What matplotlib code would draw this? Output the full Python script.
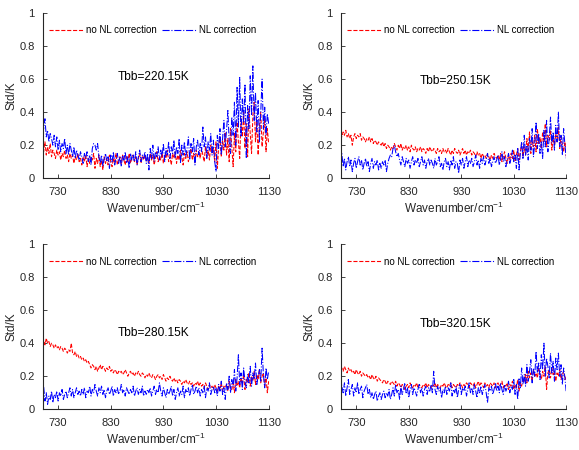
import numpy as np
import matplotlib
matplotlib.use("Agg")
import matplotlib.pyplot as plt

plt.rcParams['font.family'] = ['Liberation Sans', 'DejaVu Sans']
plt.rcParams['mathtext.default'] = 'regular'

# wavenumber grid, cm-1
wn = np.arange(700, 1130.1, 2.5)

titles = ["Tbb=220.15K", "Tbb=250.15K", "Tbb=280.15K", "Tbb=320.15K"]

# std without nonlinearity correction
r220 = [0.20, 0.16, 0.22, 0.14, 0.19, 0.15, 0.21, 0.13, 0.17, 0.15,
        0.12, 0.17, 0.14, 0.16, 0.11, 0.15, 0.13, 0.17, 0.12, 0.14,
        0.10, 0.15, 0.12, 0.14, 0.09, 0.13, 0.11, 0.15, 0.10, 0.12,
        0.08, 0.13, 0.10, 0.14, 0.07, 0.12, 0.09, 0.13, 0.11, 0.15,
        0.06, 0.12, 0.09, 0.14, 0.07, 0.11, 0.05, 0.13, 0.09, 0.12,
        0.08, 0.14, 0.10, 0.07, 0.12, 0.09, 0.15, 0.08, 0.11, 0.13,
        0.09, 0.14, 0.11, 0.08, 0.13, 0.10, 0.15, 0.09, 0.12, 0.14,
        0.10, 0.13, 0.08, 0.12, 0.15, 0.09, 0.13, 0.11, 0.14, 0.10,
        0.13, 0.09, 0.15, 0.11, 0.14, 0.08, 0.12, 0.16, 0.10, 0.13,
        0.11, 0.15, 0.09, 0.14, 0.12, 0.17, 0.10, 0.13, 0.08, 0.15,
        0.12, 0.16, 0.09, 0.14, 0.11, 0.17, 0.13, 0.08, 0.15, 0.12,
        0.16, 0.10, 0.14, 0.18, 0.11, 0.15, 0.09, 0.17, 0.13, 0.16,
        0.12, 0.18, 0.14, 0.10, 0.19, 0.13, 0.17, 0.11, 0.20, 0.15,
        0.18, 0.10, 0.22, 0.06, 0.19, 0.25, 0.13, 0.23, 0.17, 0.28,
        0.14, 0.24, 0.10, 0.30, 0.19, 0.07, 0.27, 0.16, 0.34, 0.22,
        0.12, 0.36, 0.25, 0.40, 0.18, 0.33, 0.13, 0.42, 0.27, 0.15,
        0.38, 0.46, 0.22, 0.35, 0.14, 0.31, 0.40, 0.19, 0.28, 0.36,
        0.16, 0.30, 0.21]
r250 = [0.27, 0.25, 0.28, 0.26, 0.29, 0.25, 0.27, 0.24, 0.26, 0.20,
        0.25, 0.27, 0.24, 0.26, 0.25, 0.27, 0.23, 0.25, 0.24, 0.22,
        0.24, 0.23, 0.25, 0.22, 0.24, 0.21, 0.23, 0.22, 0.20, 0.22,
        0.21, 0.20, 0.22, 0.19, 0.21, 0.18, 0.20, 0.19, 0.17, 0.19,
        0.18, 0.21, 0.19, 0.17, 0.20, 0.18, 0.21, 0.17, 0.19, 0.18,
        0.20, 0.17, 0.19, 0.16, 0.20, 0.18, 0.17, 0.19, 0.16, 0.18,
        0.17, 0.19, 0.16, 0.18, 0.17, 0.15, 0.18, 0.16, 0.19, 0.17,
        0.16, 0.18, 0.17, 0.15, 0.18, 0.16, 0.17, 0.15, 0.18, 0.16,
        0.17, 0.15, 0.18, 0.16, 0.14, 0.17, 0.15, 0.18, 0.16, 0.15,
        0.17, 0.14, 0.16, 0.18, 0.15, 0.17, 0.14, 0.16, 0.15, 0.17,
        0.14, 0.16, 0.15, 0.13, 0.16, 0.14, 0.15, 0.12, 0.15, 0.13,
        0.14, 0.12, 0.15, 0.13, 0.11, 0.14, 0.12, 0.15, 0.13, 0.12,
        0.14, 0.11, 0.15, 0.10, 0.13, 0.16, 0.12, 0.09, 0.14, 0.11,
        0.15, 0.12, 0.17, 0.10, 0.14, 0.18, 0.11, 0.16, 0.21, 0.13,
        0.19, 0.14, 0.24, 0.17, 0.28, 0.15, 0.22, 0.19, 0.26, 0.16,
        0.30, 0.21, 0.25, 0.18, 0.28, 0.22, 0.33, 0.19, 0.26, 0.23,
        0.29, 0.17, 0.24, 0.20, 0.27, 0.22, 0.31, 0.18, 0.25, 0.20,
        0.16, 0.22, 0.13]
r280 = [0.40, 0.42, 0.39, 0.43, 0.40, 0.41, 0.38, 0.40, 0.39, 0.37,
        0.39, 0.37, 0.38, 0.36, 0.38, 0.37, 0.35, 0.37, 0.36, 0.34,
        0.36, 0.35, 0.40, 0.34, 0.33, 0.35, 0.32, 0.33, 0.31, 0.32,
        0.30, 0.31, 0.29, 0.30, 0.28, 0.29, 0.27, 0.25, 0.27, 0.26,
        0.24, 0.26, 0.23, 0.25, 0.27, 0.24, 0.26, 0.25, 0.23, 0.25,
        0.24, 0.26, 0.23, 0.24, 0.22, 0.24, 0.23, 0.21, 0.23, 0.22,
        0.23, 0.21, 0.22, 0.24, 0.22, 0.20, 0.22, 0.23, 0.21, 0.22,
        0.20, 0.22, 0.21, 0.23, 0.21, 0.20, 0.22, 0.21, 0.19, 0.21,
        0.20, 0.22, 0.20, 0.19, 0.21, 0.20, 0.18, 0.20, 0.21, 0.19,
        0.20, 0.18, 0.21, 0.19, 0.17, 0.19, 0.18, 0.20, 0.18, 0.17,
        0.19, 0.17, 0.18, 0.16, 0.18, 0.17, 0.15, 0.17, 0.16, 0.18,
        0.16, 0.15, 0.17, 0.15, 0.16, 0.14, 0.16, 0.15, 0.17, 0.14,
        0.16, 0.14, 0.15, 0.13, 0.16, 0.14, 0.12, 0.15, 0.13, 0.14,
        0.12, 0.15, 0.13, 0.11, 0.14, 0.12, 0.16, 0.11, 0.14, 0.13,
        0.15, 0.11, 0.17, 0.13, 0.12, 0.16, 0.10, 0.18, 0.14, 0.17,
        0.13, 0.19, 0.15, 0.21, 0.12, 0.18, 0.16, 0.22, 0.14, 0.20,
        0.17, 0.23, 0.15, 0.21, 0.18, 0.24, 0.16, 0.20, 0.22, 0.14,
        0.19, 0.10, 0.17]
r320 = [0.24, 0.25, 0.23, 0.26, 0.24, 0.22, 0.25, 0.23, 0.24, 0.22,
        0.23, 0.21, 0.24, 0.22, 0.21, 0.23, 0.20, 0.22, 0.21, 0.20,
        0.21, 0.19, 0.20, 0.18, 0.21, 0.19, 0.18, 0.20, 0.17, 0.19,
        0.18, 0.17, 0.16, 0.18, 0.17, 0.15, 0.17, 0.16, 0.15, 0.17,
        0.16, 0.15, 0.17, 0.14, 0.16, 0.15, 0.13, 0.15, 0.14, 0.12,
        0.14, 0.15, 0.13, 0.16, 0.14, 0.13, 0.15, 0.14, 0.16, 0.13,
        0.15, 0.14, 0.13, 0.15, 0.14, 0.16, 0.13, 0.15, 0.14, 0.13,
        0.15, 0.14, 0.16, 0.13, 0.15, 0.14, 0.13, 0.15, 0.14, 0.16,
        0.14, 0.13, 0.15, 0.14, 0.16, 0.13, 0.15, 0.14, 0.13, 0.15,
        0.14, 0.16, 0.15, 0.13, 0.15, 0.14, 0.16, 0.15, 0.13, 0.16,
        0.15, 0.14, 0.16, 0.13, 0.15, 0.17, 0.14, 0.16, 0.15, 0.13,
        0.16, 0.14, 0.15, 0.13, 0.16, 0.15, 0.14, 0.16, 0.13, 0.15,
        0.16, 0.14, 0.15, 0.17, 0.13, 0.15, 0.14, 0.16, 0.12, 0.15,
        0.14, 0.17, 0.12, 0.15, 0.13, 0.18, 0.11, 0.16, 0.14, 0.19,
        0.17, 0.21, 0.16, 0.23, 0.19, 0.22, 0.17, 0.24, 0.20, 0.22,
        0.19, 0.25, 0.21, 0.18, 0.23, 0.20, 0.26, 0.12, 0.22, 0.24,
        0.19, 0.25, 0.21, 0.23, 0.17, 0.22, 0.20, 0.24, 0.18, 0.21,
        0.23, 0.18, 0.20]

# std with nonlinearity correction
b220 = [0.40, 0.30, 0.36, 0.25, 0.29, 0.22, 0.27, 0.24, 0.20, 0.26,
        0.19, 0.25, 0.17, 0.23, 0.16, 0.21, 0.18, 0.24, 0.15, 0.20,
        0.14, 0.21, 0.17, 0.13, 0.19, 0.12, 0.17, 0.14, 0.11, 0.16,
        0.13, 0.09, 0.15, 0.12, 0.16, 0.10, 0.14, 0.08, 0.18, 0.21,
        0.20, 0.17, 0.21, 0.13, 0.09, 0.14, 0.07, 0.12, 0.15, 0.10,
        0.13, 0.06, 0.14, 0.10, 0.16, 0.08, 0.12, 0.15, 0.09, 0.13,
        0.07, 0.14, 0.11, 0.16, 0.09, 0.13, 0.06, 0.15, 0.11, 0.14,
        0.10, 0.16, 0.08, 0.13, 0.17, 0.10, 0.14, 0.12, 0.16, 0.09,
        0.15, 0.05, 0.18, 0.12, 0.20, 0.10, 0.16, 0.13, 0.19, 0.11,
        0.17, 0.13, 0.21, 0.10, 0.18, 0.14, 0.22, 0.12, 0.19, 0.15,
        0.23, 0.12, 0.19, 0.15, 0.24, 0.09, 0.20, 0.14, 0.22, 0.13,
        0.18, 0.25, 0.11, 0.21, 0.16, 0.24, 0.08, 0.19, 0.23, 0.14,
        0.21, 0.16, 0.31, 0.19, 0.25, 0.12, 0.22, 0.17, 0.27, 0.14,
        0.23, 0.10, 0.04, 0.26, 0.18, 0.30, 0.14, 0.24, 0.35, 0.19,
        0.29, 0.41, 0.22, 0.15, 0.37, 0.26, 0.46, 0.20, 0.55, 0.31,
        0.61, 0.25, 0.48, 0.34, 0.57, 0.12, 0.44, 0.30, 0.62, 0.38,
        0.68, 0.35, 0.52, 0.28, 0.47, 0.22, 0.40, 0.60, 0.30, 0.43,
        0.26, 0.39, 0.33]
b250 = [0.10, 0.15, 0.07, 0.12, 0.05, 0.10, 0.13, 0.07, 0.11, 0.04,
        0.09, 0.12, 0.06, 0.10, 0.13, 0.08, 0.11, 0.05, 0.09, 0.12,
        0.07, 0.10, 0.04, 0.09, 0.12, 0.06, 0.10, 0.08, 0.11, 0.05,
        0.09, 0.06, 0.10, 0.08, 0.11, 0.04, 0.09, 0.12, 0.14, 0.13,
        0.18, 0.20, 0.16, 0.13, 0.15, 0.11, 0.08, 0.13, 0.10, 0.07,
        0.12, 0.09, 0.11, 0.06, 0.10, 0.13, 0.08, 0.11, 0.09, 0.12,
        0.07, 0.10, 0.13, 0.08, 0.11, 0.06, 0.10, 0.12, 0.08, 0.11,
        0.09, 0.06, 0.12, 0.08, 0.10, 0.13, 0.07, 0.09, 0.05, 0.10,
        0.12, 0.07, 0.10, 0.05, 0.11, 0.08, 0.13, 0.06, 0.10, 0.09,
        0.03, 0.11, 0.08, 0.12, 0.06, 0.10, 0.13, 0.07, 0.11, 0.09,
        0.12, 0.07, 0.10, 0.14, 0.08, 0.11, 0.06, 0.12, 0.09, 0.13,
        0.08, 0.11, 0.15, 0.09, 0.12, 0.07, 0.10, 0.13, 0.09, 0.11,
        0.14, 0.08, 0.12, 0.16, 0.10, 0.13, 0.07, 0.11, 0.15, 0.09,
        0.12, 0.17, 0.10, 0.14, 0.06, 0.18, 0.05, 0.15, 0.22, 0.12,
        0.26, 0.14, 0.20, 0.11, 0.24, 0.17, 0.30, 0.13, 0.21, 0.34,
        0.18, 0.27, 0.15, 0.22, 0.12, 0.29, 0.19, 0.35, 0.16, 0.24,
        0.37, 0.21, 0.28, 0.17, 0.32, 0.22, 0.40, 0.19, 0.26, 0.14,
        0.30, 0.20, 0.12]
b280 = [0.08, 0.14, 0.05, 0.10, 0.03, 0.08, 0.06, 0.11, 0.04, 0.09,
        0.07, 0.11, 0.05, 0.10, 0.08, 0.12, 0.06, 0.09, 0.11, 0.07,
        0.10, 0.13, 0.08, 0.12, 0.07, 0.10, 0.13, 0.09, 0.11, 0.08,
        0.12, 0.09, 0.13, 0.07, 0.11, 0.10, 0.14, 0.08, 0.12, 0.10,
        0.15, 0.11, 0.08, 0.13, 0.10, 0.14, 0.09, 0.12, 0.07, 0.11,
        0.13, 0.09, 0.11, 0.14, 0.08, 0.12, 0.10, 0.13, 0.09, 0.11,
        0.15, 0.10, 0.12, 0.08, 0.13, 0.11, 0.09, 0.12, 0.10, 0.14,
        0.08, 0.11, 0.13, 0.09, 0.12, 0.10, 0.14, 0.08, 0.11, 0.09,
        0.12, 0.10, 0.13, 0.08, 0.11, 0.14, 0.09, 0.12, 0.10, 0.16,
        0.11, 0.08, 0.13, 0.10, 0.07, 0.12, 0.09, 0.11, 0.14, 0.08,
        0.12, 0.06, 0.10, 0.13, 0.08, 0.11, 0.09, 0.14, 0.07, 0.12,
        0.10, 0.13, 0.08, 0.12, 0.15, 0.09, 0.11, 0.14, 0.10, 0.13,
        0.08, 0.12, 0.10, 0.14, 0.07, 0.13, 0.11, 0.16, 0.09, 0.12,
        0.14, 0.10, 0.13, 0.08, 0.15, 0.11, 0.17, 0.09, 0.13, 0.06,
        0.16, 0.12, 0.20, 0.10, 0.18, 0.14, 0.24, 0.11, 0.19, 0.33,
        0.15, 0.22, 0.12, 0.25, 0.17, 0.13, 0.21, 0.16, 0.26, 0.14,
        0.22, 0.18, 0.28, 0.15, 0.20, 0.24, 0.17, 0.37, 0.21, 0.13,
        0.25, 0.18, 0.23]
b320 = [0.20, 0.14, 0.10, 0.16, 0.08, 0.13, 0.18, 0.09, 0.12, 0.15,
        0.08, 0.13, 0.10, 0.16, 0.09, 0.12, 0.14, 0.07, 0.11, 0.13,
        0.15, 0.09, 0.12, 0.07, 0.10, 0.06, 0.09, 0.11, 0.05, 0.08,
        0.10, 0.06, 0.09, 0.11, 0.07, 0.10, 0.08, 0.12, 0.06, 0.09,
        0.13, 0.08, 0.15, 0.10, 0.12, 0.06, 0.14, 0.09, 0.12, 0.16,
        0.10, 0.13, 0.07, 0.12, 0.15, 0.09, 0.13, 0.11, 0.08, 0.12,
        0.15, 0.10, 0.13, 0.08, 0.12, 0.14, 0.09, 0.13, 0.11, 0.15,
        0.10, 0.23, 0.12, 0.09, 0.14, 0.11, 0.13, 0.07, 0.12, 0.10,
        0.14, 0.09, 0.13, 0.11, 0.16, 0.08, 0.12, 0.10, 0.14, 0.07,
        0.12, 0.15, 0.09, 0.13, 0.11, 0.14, 0.08, 0.12, 0.16, 0.10,
        0.13, 0.09, 0.15, 0.11, 0.07, 0.13, 0.10, 0.14, 0.09, 0.12,
        0.15, 0.10, 0.04, 0.13, 0.11, 0.14, 0.09, 0.12, 0.16, 0.11,
        0.14, 0.10, 0.16, 0.12, 0.09, 0.15, 0.11, 0.13, 0.17, 0.10,
        0.14, 0.12, 0.18, 0.09, 0.15, 0.06, 0.19, 0.13, 0.25, 0.15,
        0.21, 0.14, 0.27, 0.17, 0.23, 0.30, 0.16, 0.25, 0.20, 0.35,
        0.22, 0.28, 0.18, 0.33, 0.24, 0.40, 0.20, 0.31, 0.26, 0.19,
        0.34, 0.22, 0.29, 0.17, 0.31, 0.24, 0.34, 0.20, 0.27, 0.15,
        0.25, 0.19, 0.10]

no_corr = [r220, r250, r280, r320]
with_corr = [b220, b250, b280, b320]

# label positions (x in cm-1, y in K)
title_pos = [(843, 0.61), (851, 0.59), (843, 0.46), (851, 0.515)]

dark = '#262626'
fig = plt.figure(figsize=(5.79, 4.5), dpi=100)
rects = [[0.074, 0.604, 0.390, 0.367], [0.589, 0.604, 0.389, 0.367],
         [0.074, 0.0905, 0.390, 0.367], [0.589, 0.0905, 0.389, 0.367]]

for k in range(4):
    ax = fig.add_axes(rects[k])
    ax.plot(wn, no_corr[k], '--', color='red', lw=0.75, label='no NL correction')
    ax.plot(wn, with_corr[k], '-.', color='blue', lw=0.75, label='NL correction')
    ax.set_xlim(701, 1130)
    ax.set_ylim(0, 1)
    ax.set_xticks([730, 830, 930, 1030, 1130])
    ax.set_yticks([0, 0.2, 0.4, 0.6, 0.8, 1])
    ax.set_yticklabels(['0', '0.2', '0.4', '0.6', '0.8', '1'])
    ax.spines['top'].set_visible(False)
    ax.spines['right'].set_visible(False)
    for s in ['left', 'bottom']:
        ax.spines[s].set_color(dark)
        ax.spines[s].set_linewidth(0.8)
    ax.tick_params(direction='in', length=3, width=0.6, colors=dark,
                   labelsize=8, pad=6)
    ax.set_xlabel('Wavenumber/cm$^{-1}$', fontsize=8.5, color=dark, labelpad=3)
    ax.set_ylabel('Std/K', fontsize=8.5, color=dark)
    ax.yaxis.set_label_coords(-0.113, 0.5)
    ax.text(title_pos[k][0], title_pos[k][1], titles[k], fontsize=8.6,
            color='black', va='center', ha='left')
    leg = ax.legend(loc='upper left', bbox_to_anchor=(0.0, 0.96), ncol=2,
                    frameon=False, fontsize=7, handlelength=3.6,
                    handletextpad=0.2, columnspacing=0.6, borderaxespad=0.2)
    for h in leg.get_lines():
        h.set_linewidth(0.8)

fig.savefig('out.png', dpi=100)
